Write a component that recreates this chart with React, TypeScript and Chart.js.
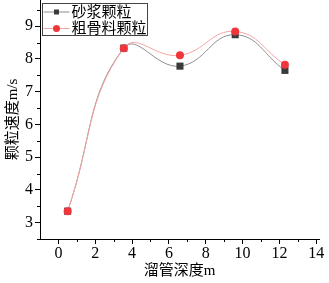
import React, { useEffect, useRef } from "react";
import { Chart, registerables } from "chart.js";

Chart.register(...registerables);

const seriesNames = ["砂浆颗粒", "粗骨料颗粒"];
const depthX = [0.5, 3.55, 6.6, 9.6, 12.3];
const mortarSpeed = [3.35, 8.33, 7.78, 8.74, 7.65];
const aggregateSpeed = [3.35, 8.33, 8.11, 8.84, 7.82];
const xTickValues = [0, 2, 4, 6, 8, 10, 12, 14];
const yTickValues = [3, 4, 5, 6, 7, 8, 9];
const xMinorValues = [1, 3, 5, 7, 9, 11, 13];
const yMinorValues = [2.5, 3.5, 4.5, 5.5, 6.5, 7.5, 8.5, 9.5];

const FONT = "'Liberation Serif', 'Noto Sans CJK SC', serif";

const minorTicks = {
  id: "minorTicks",
  afterDraw(chart: any) {
    const ctx = chart.ctx;
    const xs = chart.scales.x;
    const ys = chart.scales.y;
    const ca = chart.chartArea;
    ctx.save();
    ctx.strokeStyle = "#000";
    ctx.lineWidth = 1;
    ctx.beginPath();
    xMinorValues.forEach((v) => {
      const px = Math.round(xs.getPixelForValue(v)) + 0.5;
      ctx.moveTo(px, ca.bottom);
      ctx.lineTo(px, ca.bottom + 3);
    });
    yMinorValues.forEach((v) => {
      const py = Math.round(ys.getPixelForValue(v)) + 0.5;
      ctx.moveTo(ca.left, py);
      ctx.lineTo(ca.left - 3, py);
    });
    ctx.stroke();
    ctx.restore();
  },
};

const boxLegend = {
  id: "boxLegend",
  afterDraw(chart: any) {
    const ctx = chart.ctx;
    const ca = chart.chartArea;
    const x0 = ca.left + 2.5;
    const y0 = ca.top + 3.5;
    const w = 105;
    const h = 32;
    ctx.save();
    ctx.fillStyle = "#fff";
    ctx.fillRect(x0, y0, w, h);
    ctx.strokeStyle = "#444";
    ctx.lineWidth = 1;
    ctx.strokeRect(x0, y0, w, h);
    const styles = [
      { line: "#8f8f8f", fill: "#3a3a3a", shape: "rect" },
      { line: "#f7a3a3", fill: "#f0363a", shape: "circle" },
    ];
    seriesNames.forEach((name, i) => {
      const cy = y0 + 8.5 + i * 16.5;
      const s = styles[i];
      ctx.strokeStyle = s.line;
      ctx.beginPath();
      ctx.moveTo(x0 + 1, cy);
      ctx.lineTo(x0 + 27, cy);
      ctx.stroke();
      ctx.fillStyle = s.fill;
      const mx = x0 + 14;
      if (s.shape === "rect") {
        ctx.fillRect(mx - 2.5, cy - 2.5, 5, 5);
      } else {
        ctx.beginPath();
        ctx.arc(mx, cy, 3.5, 0, Math.PI * 2);
        ctx.fill();
      }
      ctx.fillStyle = "#000";
      ctx.font = `15px ${FONT}`;
      ctx.textBaseline = "middle";
      ctx.textAlign = "left";
      ctx.fillText(name, x0 + 29, cy + 1);
    });
    ctx.restore();
  },
};

export default function App() {
  const ref = useRef<HTMLCanvasElement>(null);
  useEffect(() => {
    if (!ref.current) return;
    const chart = new Chart(ref.current, {
      type: "line",
      data: {
        datasets: [
          {
            label: seriesNames[1],
            data: depthX.map((x, i) => ({ x, y: aggregateSpeed[i] })),
            borderColor: "#f7a3a3",
            borderWidth: 1,
            backgroundColor: "#f0363a",
            pointBackgroundColor: "#f0363a",
            pointBorderColor: "#f0363a",
            pointStyle: "circle",
            pointRadius: 4,
            pointBorderWidth: 0,
            tension: 0.45,
            order: 0,
          },
          {
            label: seriesNames[0],
            data: depthX.map((x, i) => ({ x, y: mortarSpeed[i] })),
            borderColor: "#8f8f8f",
            borderWidth: 1,
            backgroundColor: "#3a3a3a",
            pointBackgroundColor: "#3a3a3a",
            pointBorderColor: "#3a3a3a",
            pointStyle: "rect",
            pointRadius: 5,
            pointBorderWidth: 0,
            tension: 0.45,
            order: 1,
          },
        ],
      },
      options: {
        animation: false,
        responsive: false,
        layout: { autoPadding: false, padding: { left: 0, right: 10, top: 0, bottom: 0 } },
        plugins: { legend: { display: false }, tooltip: { enabled: false } },
        scales: {
          x: {
            type: "linear",
            min: -1,
            max: 14.15,
            afterBuildTicks: (s: any) => {
              s.ticks = xTickValues.map((v) => ({ value: v }));
            },
            afterFit: (s: any) => {
              s.height = 44;
              s.paddingLeft = 0;
              s.paddingRight = 0;
            },
            grid: { drawOnChartArea: false, drawTicks: true, tickLength: 5, color: "#000" },
            border: { color: "#000", width: 1 },
            ticks: {
              color: "#000",
              font: { family: FONT, size: 16 },
              padding: 0,
              maxRotation: 0,
              autoSkip: false,
            },
            title: {
              display: true,
              text: "溜管深度m",
              color: "#000",
              font: { family: FONT, size: 15 },
              padding: { top: 2, bottom: 3 },
            },
          },
          y: {
            type: "linear",
            min: 2.5,
            max: 9.8,
            afterBuildTicks: (s: any) => {
              s.ticks = yTickValues.map((v) => ({ value: v }));
            },
            afterFit: (s: any) => {
              s.width = 40;
              s.paddingTop = 0;
              s.paddingBottom = 0;
            },
            grid: { drawOnChartArea: false, drawTicks: true, tickLength: 5, color: "#000" },
            border: { color: "#000", width: 1 },
            ticks: {
              color: "#000",
              font: { family: FONT, size: 16 },
              padding: 2,
              autoSkip: false,
            },
            title: {
              display: true,
              text: "颗粒速度m/s",
              color: "#000",
              font: { family: FONT, size: 15 },
              padding: { top: 4, bottom: 2 },
            },
          },
        },
      },
      plugins: [minorTicks, boxLegend],
    } as any);
    return () => chart.destroy();
  }, []);
  return (
    <div style={{ position: "fixed", left: 0, top: 0, width: 329, height: 283, background: "#fff" }}>
      <canvas ref={ref} width={329} height={283} />
    </div>
  );
}
